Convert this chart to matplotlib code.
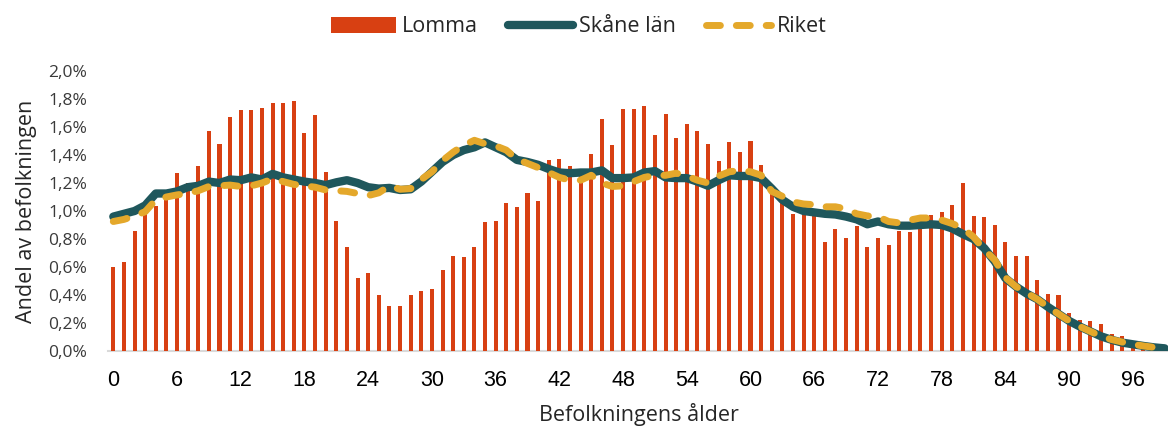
import matplotlib
matplotlib.use("Agg")
import matplotlib.pyplot as plt
import numpy as np
from matplotlib.ticker import FixedLocator, FuncFormatter

ages = list(range(100))
x_tick_labels = [str(a) for a in range(0, 100, 6)]

lomma = [0.60, 0.636, 0.86, 0.98, 1.035, 1.09, 1.27, 1.20, 1.32, 1.575,
         1.48, 1.67, 1.72, 1.72, 1.735, 1.77, 1.77, 1.785, 1.56, 1.685,
         1.28, 0.93, 0.74, 0.52, 0.56, 0.40, 0.32, 0.32, 0.40, 0.43,
         0.44, 0.58, 0.68, 0.675, 0.74, 0.92, 0.93, 1.06, 1.03, 1.13,
         1.075, 1.365, 1.37, 1.32, 1.25, 1.41, 1.655, 1.47, 1.73, 1.73,
         1.75, 1.54, 1.69, 1.52, 1.625, 1.57, 1.48, 1.36, 1.49, 1.42,
         1.50, 1.33, 1.18, 1.08, 0.98, 0.995, 0.97, 0.78, 0.87, 0.81,
         0.895, 0.74, 0.805, 0.755, 0.855, 0.85, 0.955, 0.975, 0.99, 1.04,
         1.20, 0.965, 0.955, 0.90, 0.78, 0.68, 0.68, 0.505, 0.41, 0.40,
         0.27, 0.225, 0.215, 0.19, 0.12, 0.11, 0.05, 0.03, 0.01, 0.005]

skane = [0.96, 0.98, 1.00, 1.04, 1.125, 1.125, 1.14, 1.17, 1.18, 1.21,
         1.20, 1.225, 1.22, 1.24, 1.225, 1.265, 1.24, 1.225, 1.21, 1.20,
         1.185, 1.205, 1.22, 1.20, 1.17, 1.16, 1.165, 1.15, 1.155, 1.21,
         1.28, 1.35, 1.40, 1.435, 1.455, 1.49, 1.455, 1.42, 1.365, 1.35,
         1.33, 1.30, 1.275, 1.27, 1.275, 1.275, 1.29, 1.235, 1.235, 1.24,
         1.275, 1.285, 1.24, 1.235, 1.235, 1.21, 1.18, 1.22, 1.255, 1.25,
         1.25, 1.235, 1.16, 1.08, 1.03, 1.00, 0.99, 0.98, 0.975, 0.96,
         0.94, 0.905, 0.925, 0.905, 0.895, 0.895, 0.90, 0.905, 0.90, 0.875,
         0.835, 0.80, 0.735, 0.64, 0.52, 0.46, 0.41, 0.37, 0.315, 0.265,
         0.215, 0.175, 0.14, 0.105, 0.08, 0.06, 0.048, 0.036, 0.026, 0.019]

riket = [0.925, 0.94, 0.965, 0.995, 1.08, 1.10, 1.115, 1.125, 1.145, 1.175,
         1.18, 1.185, 1.175, 1.18, 1.20, 1.23, 1.21, 1.19, 1.18, 1.17,
         1.15, 1.145, 1.14, 1.125, 1.11, 1.13, 1.18, 1.155, 1.16, 1.225,
         1.28, 1.36, 1.42, 1.47, 1.505, 1.48, 1.465, 1.435, 1.37, 1.34,
         1.31, 1.275, 1.24, 1.22, 1.22, 1.255, 1.20, 1.175, 1.18, 1.21,
         1.24, 1.255, 1.255, 1.27, 1.25, 1.22, 1.20, 1.25, 1.28, 1.29,
         1.28, 1.255, 1.14, 1.105, 1.065, 1.05, 1.045, 1.03, 1.03, 1.015,
         0.98, 0.965, 0.96, 0.925, 0.915, 0.935, 0.95, 0.95, 0.935, 0.91,
         0.875, 0.815, 0.725, 0.65, 0.525, 0.46, 0.415, 0.37, 0.315, 0.265,
         0.215, 0.175, 0.14, 0.105, 0.082, 0.064, 0.048, 0.036, 0.026, 0.017]

BAR_C = "#D84012"
SKANE_C = "#1F575C"
RIKET_C = "#E4A82B"
TXT_C = "#262626"
FAM = "Open Sans"

fig = plt.figure(figsize=(11.68, 4.28), dpi=100)
ax = fig.add_axes([108 / 1168, 77 / 428, 1062 / 1168, 280 / 428])

bars = ax.bar(ages, lomma, width=0.38, color=BAR_C, label="Lomma", zorder=2)
(sl,) = ax.plot(ages, skane, color=SKANE_C, lw=6, solid_capstyle="round",
                solid_joinstyle="round", label="Skåne län", zorder=3)
(rl,) = ax.plot(ages, riket, color=RIKET_C, lw=5, label="Riket", zorder=4)
rl.set_dashes((2.0, 2.3))
rl.set_dash_capstyle("round")
rl.set_dash_joinstyle("round")

ax.set_xlim(-0.5, 99.5)
ax.set_ylim(0, 2.0)
for s in ["top", "right", "left"]:
    ax.spines[s].set_visible(False)
ax.spines["bottom"].set_color("#D9D9D9")
ax.spines["bottom"].set_linewidth(1.5)
ax.spines["bottom"].set_zorder(1)

ax.xaxis.set_major_locator(FixedLocator(list(range(0, 100, 6))))
ax.set_xticklabels(x_tick_labels, family="Liberation Sans", fontsize=15.5, color="#000000")
ax.yaxis.set_major_locator(FixedLocator(np.arange(0, 2.01, 0.2)))
ax.yaxis.set_major_formatter(FuncFormatter(lambda v, p: f"{v:.1f}%".replace(".", ",")))
ax.tick_params(axis="x", length=0, pad=14)
ax.tick_params(axis="y", length=0, pad=15, labelsize=12.5, labelcolor="#3A3A3A")
for t in ax.get_yticklabels():
    t.set_family(FAM)

ax.set_ylabel("Andel av befolkningen", fontsize=15.5, color=TXT_C, labelpad=8, family=FAM)
ax.set_xlabel("Befolkningens ålder", fontsize=15.5, color=TXT_C, labelpad=8, family=FAM)

leg = fig.legend(handles=[bars, sl, rl], labels=["Lomma", "Skåne län", "Riket"],
                 loc="center", bbox_to_anchor=(579 / 1168, 1 - 27 / 428), ncol=3,
                 frameon=False, handlelength=3.0, handletextpad=0.3, columnspacing=1.4,
                 prop=dict(family=FAM, size=15.5))
for t in leg.get_texts():
    t.set_color(TXT_C)

fig.savefig("out.png", dpi=100)
